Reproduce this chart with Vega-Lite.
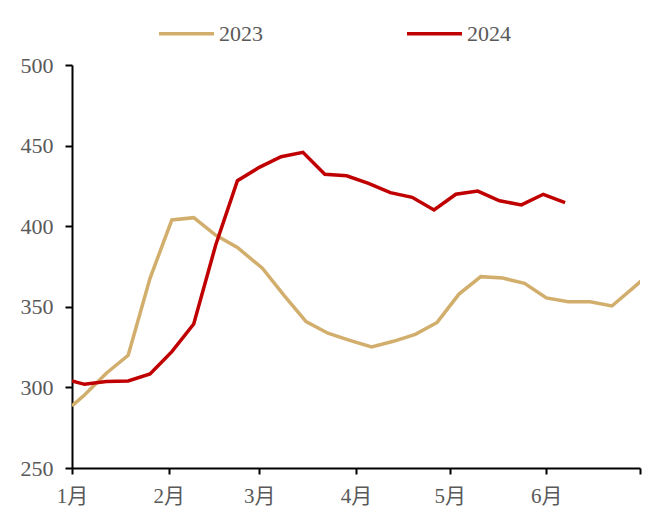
{
  "$schema": "https://vega.github.io/schema/vega-lite/v6.json",
  "width": 568,
  "height": 403,
  "autosize": "none",
  "padding": {"left": 72, "top": 65, "right": 19, "bottom": 46},
  "background": "white",
  "config": {"view": {"stroke": null}},
  "data": {
    "values": [
      {"date": "2023-01-01", "year": "2023", "value": 288.5},
      {"date": "2023-01-05", "year": "2023", "value": 295.3},
      {"date": "2023-01-12", "year": "2023", "value": 308.8},
      {"date": "2023-01-19", "year": "2023", "value": 319.9},
      {"date": "2023-01-26", "year": "2023", "value": 367.7},
      {"date": "2023-02-02", "year": "2023", "value": 403.9},
      {"date": "2023-02-09", "year": "2023", "value": 405.3},
      {"date": "2023-02-16", "year": "2023", "value": 394.5},
      {"date": "2023-02-23", "year": "2023", "value": 386.8},
      {"date": "2023-03-02", "year": "2023", "value": 373.9},
      {"date": "2023-03-09", "year": "2023", "value": 356.9},
      {"date": "2023-03-16", "year": "2023", "value": 340.8},
      {"date": "2023-03-23", "year": "2023", "value": 333.6},
      {"date": "2023-03-30", "year": "2023", "value": 329.2},
      {"date": "2023-04-06", "year": "2023", "value": 325.1},
      {"date": "2023-04-13", "year": "2023", "value": 328.6},
      {"date": "2023-04-20", "year": "2023", "value": 332.9},
      {"date": "2023-04-27", "year": "2023", "value": 340.3},
      {"date": "2023-05-04", "year": "2023", "value": 357.9},
      {"date": "2023-05-11", "year": "2023", "value": 368.7},
      {"date": "2023-05-18", "year": "2023", "value": 367.8},
      {"date": "2023-05-25", "year": "2023", "value": 364.6},
      {"date": "2023-06-01", "year": "2023", "value": 355.5},
      {"date": "2023-06-08", "year": "2023", "value": 353.1},
      {"date": "2023-06-15", "year": "2023", "value": 353.1},
      {"date": "2023-06-22", "year": "2023", "value": 350.5},
      {"date": "2023-06-29", "year": "2023", "value": 362.0},
      {"date": "2023-07-06", "year": "2023", "value": 374.0},
      {"date": "2024-01-01", "year": "2024", "value": 304.0},
      {"date": "2024-01-05", "year": "2024", "value": 301.9},
      {"date": "2024-01-12", "year": "2024", "value": 303.6},
      {"date": "2024-01-19", "year": "2024", "value": 304.0},
      {"date": "2024-01-26", "year": "2024", "value": 308.3},
      {"date": "2024-02-02", "year": "2024", "value": 322.2},
      {"date": "2024-02-09", "year": "2024", "value": 339.3},
      {"date": "2024-02-16", "year": "2024", "value": 388.0},
      {"date": "2024-02-23", "year": "2024", "value": 428.2},
      {"date": "2024-03-01", "year": "2024", "value": 436.5},
      {"date": "2024-03-08", "year": "2024", "value": 443.1},
      {"date": "2024-03-15", "year": "2024", "value": 445.8},
      {"date": "2024-03-22", "year": "2024", "value": 432.2},
      {"date": "2024-03-29", "year": "2024", "value": 431.3},
      {"date": "2024-04-05", "year": "2024", "value": 426.6},
      {"date": "2024-04-12", "year": "2024", "value": 420.8},
      {"date": "2024-04-19", "year": "2024", "value": 417.9},
      {"date": "2024-04-26", "year": "2024", "value": 410.1},
      {"date": "2024-05-03", "year": "2024", "value": 419.8},
      {"date": "2024-05-10", "year": "2024", "value": 421.8},
      {"date": "2024-05-17", "year": "2024", "value": 415.8},
      {"date": "2024-05-24", "year": "2024", "value": 413.2},
      {"date": "2024-05-31", "year": "2024", "value": 419.8},
      {"date": "2024-06-07", "year": "2024", "value": 414.6}
    ]
  },
  "mark": {"type": "line", "strokeWidth": 3.5, "clip": true, "strokeJoin": "miter"},
  "encoding": {
    "x": {
      "field": "date",
      "type": "temporal",
      "timeUnit": "utcmonthdate",
      "scale": {
        "domain": [
          {"year": 2012, "month": 1, "date": 1, "utc": true},
          {"year": 2012, "month": 7, "date": 1, "utc": true}
        ]
      },
      "axis": {
        "title": null,
        "grid": false,
        "values": [
          {"year": 2012, "month": 1, "date": 1, "utc": true},
          {"year": 2012, "month": 2, "date": 1, "utc": true},
          {"year": 2012, "month": 3, "date": 1, "utc": true},
          {"year": 2012, "month": 4, "date": 1, "utc": true},
          {"year": 2012, "month": 5, "date": 1, "utc": true},
          {"year": 2012, "month": 6, "date": 1, "utc": true},
          {"year": 2012, "month": 7, "date": 1, "utc": true}
        ],
        "labelExpr": "utcmonth(datum.value) < 6 ? (utcmonth(datum.value) + 1) + '月' : ''",
        "labelFont": "Liberation Serif, Noto Sans CJK SC",
        "labelFontSize": 21,
        "labelColor": "#595959",
        "labelPadding": 11,
        "labelAlign": "center",
        "labelFlush": false,
        "labelOverlap": false,
        "domainColor": "#000000",
        "domainWidth": 2,
        "tickColor": "#000000",
        "tickWidth": 2,
        "tickSize": 6
      }
    },
    "y": {
      "field": "value",
      "type": "quantitative",
      "scale": {"domain": [250, 500], "nice": false, "zero": false},
      "axis": {
        "title": null,
        "grid": false,
        "values": [250, 300, 350, 400, 450, 500],
        "labelFont": "Liberation Serif",
        "labelFontSize": 22,
        "labelColor": "#595959",
        "labelPadding": 12,
        "domainColor": "#000000",
        "domainWidth": 2,
        "tickColor": "#000000",
        "tickWidth": 2,
        "tickSize": 7
      }
    },
    "color": {
      "field": "year",
      "type": "nominal",
      "scale": {"domain": ["2023", "2024"], "range": ["#D2AE6D", "#C00000"]},
      "legend": {
        "title": null,
        "orient": "none",
        "direction": "horizontal",
        "legendX": 85,
        "legendY": -61,
        "symbolType": "stroke",
        "symbolSize": 3025,
        "symbolStrokeWidth": 3.5,
        "labelFont": "Liberation Serif",
        "labelFontSize": 22,
        "labelColor": "#595959",
        "labelOffset": 3,
        "columnPadding": 137
      }
    }
  }
}
